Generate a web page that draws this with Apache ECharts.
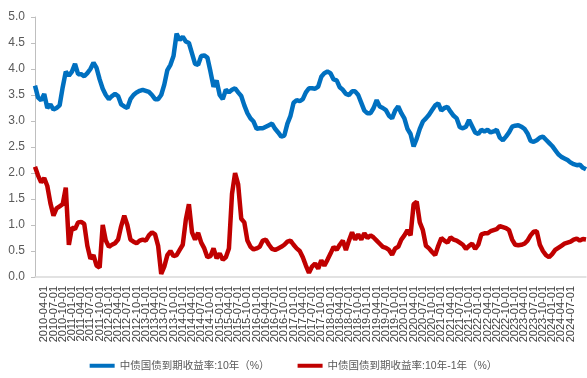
<!DOCTYPE html>
<html>
<head>
<meta charset="utf-8">
<script src="https://cdn.jsdelivr.net/npm/echarts@6/dist/echarts.min.js"></script>
<style>
  html, body { margin: 0; padding: 0; background: #ffffff; }
  #chart { width: 587px; height: 378px; }
</style>
</head>
<body>
<div id="chart"></div>
<script>
// Monthly observations, 2010-01 through 2024-12
const startYear = 2010;
const monthCount = 180;

// 中债国债到期收益率:10年 (%)
const yield10y = [
  3.68, 3.45, 3.40, 3.52, 3.25, 3.32, 3.22, 3.25, 3.30, 3.65, 3.95, 3.87,
  3.95, 4.10, 3.90, 3.90, 3.86, 3.92, 4.00, 4.12, 4.02, 3.80, 3.62, 3.50,
  3.42, 3.48, 3.52, 3.48, 3.32, 3.28, 3.25, 3.42, 3.50, 3.55, 3.58, 3.60,
  3.58, 3.56, 3.50, 3.42, 3.42, 3.50, 3.70, 3.98, 4.08, 4.25, 4.68, 4.56,
  4.62, 4.53, 4.50, 4.30, 4.10, 4.08, 4.25, 4.26, 4.22, 3.95, 3.66, 3.78,
  3.50, 3.42, 3.60, 3.55, 3.60, 3.63, 3.55, 3.48, 3.30, 3.15, 3.05, 2.99,
  2.85, 2.86, 2.86, 2.89, 2.92, 2.95, 2.85, 2.78, 2.70, 2.72, 2.95, 3.10,
  3.35, 3.40, 3.38, 3.42, 3.55, 3.63, 3.63, 3.62, 3.66, 3.85, 3.92, 3.95,
  3.92, 3.80, 3.78, 3.65, 3.60, 3.52, 3.50, 3.57, 3.57, 3.50, 3.35, 3.20,
  3.15, 3.15, 3.25, 3.40, 3.28, 3.25, 3.21, 3.10, 3.05, 3.20, 3.28, 3.15,
  3.05, 2.85, 2.75, 2.51, 2.66, 2.85, 2.99, 3.05, 3.12, 3.21, 3.30, 3.34,
  3.20, 3.25, 3.27, 3.18, 3.10, 3.05, 2.88, 2.86, 2.89, 3.02, 2.90, 2.78,
  2.75, 2.83, 2.80, 2.83, 2.78, 2.80, 2.83, 2.68, 2.63, 2.70, 2.78, 2.89,
  2.91, 2.92, 2.89, 2.85, 2.76, 2.62, 2.60, 2.63, 2.68, 2.70, 2.64, 2.58,
  2.52, 2.44, 2.36, 2.31, 2.28, 2.25, 2.20, 2.17, 2.15, 2.16, 2.10, 2.07
];

// 中债国债到期收益率:10年-1年 (%)
const spread10y1y = [
  2.12, 1.95, 1.82, 1.90, 1.75, 1.42, 1.18, 1.32, 1.36, 1.40, 1.72, 0.62,
  0.95, 0.92, 1.05, 1.06, 1.02, 0.60, 0.35, 0.42, 0.22, 0.18, 1.00, 0.70,
  0.58, 0.62, 0.65, 0.72, 0.98, 1.18, 1.00, 0.72, 0.68, 0.65, 0.70, 0.72,
  0.70, 0.80, 0.86, 0.82, 0.60, 0.06, 0.20, 0.42, 0.50, 0.40, 0.42, 0.52,
  0.62, 1.10, 1.40, 0.86, 0.72, 0.85, 0.66, 0.55, 0.38, 0.40, 0.55, 0.36,
  0.45, 0.33, 0.38, 0.55, 1.60, 2.00, 1.78, 1.12, 1.05, 0.70, 0.58, 0.53,
  0.55, 0.58, 0.70, 0.72, 0.62, 0.54, 0.52, 0.55, 0.58, 0.62, 0.68, 0.70,
  0.62, 0.55, 0.50, 0.38, 0.22, 0.08, 0.20, 0.26, 0.16, 0.32, 0.22, 0.33,
  0.45, 0.58, 0.52, 0.62, 0.70, 0.52, 0.70, 0.86, 0.72, 0.82, 0.72, 0.84,
  0.75, 0.80, 0.76, 0.70, 0.64, 0.58, 0.56, 0.52, 0.43, 0.55, 0.58, 0.72,
  0.80, 0.90, 0.80, 1.40, 1.45, 1.05, 0.90, 0.60, 0.55, 0.48, 0.42, 0.60,
  0.75, 0.70, 0.66, 0.76, 0.72, 0.70, 0.66, 0.62, 0.54, 0.60, 0.64, 0.54,
  0.62, 0.82, 0.84, 0.84, 0.88, 0.90, 0.92, 0.98, 0.96, 0.94, 0.90, 0.72,
  0.62, 0.61, 0.62, 0.64, 0.70, 0.80, 0.87, 0.88, 0.62, 0.50, 0.42, 0.38,
  0.44, 0.52, 0.56, 0.60, 0.64, 0.66, 0.68, 0.72, 0.74, 0.70, 0.73, 0.72
];

const seriesNames = ['中债国债到期收益率:10年（%）', '中债国债到期收益率:10年-1年（%）'];
const seriesColors = ['#0070C0', '#C00000'];

// Category labels: first day of each month
const dates = [];
for (let i = 0; i < monthCount; i++) {
  const y = startYear + Math.floor(i / 12);
  const m = (i % 12) + 1;
  dates.push(y + '-' + String(m).padStart(2, '0') + '-01');
}

const fontFamily = '"Liberation Sans", "Noto Sans CJK SC", sans-serif';

const chart = echarts.init(document.getElementById('chart'), null, { renderer: 'canvas' });
chart.setOption({
  animation: false,
  backgroundColor: '#ffffff',
  grid: { left: 35, right: 1, top: 17, bottom: 101, containLabel: false },
  legend: {
    bottom: 2,
    left: 'center',
    itemWidth: 25,
    itemHeight: 4,
    itemGap: 28,
    icon: 'rect',
    textStyle: { color: '#595959', fontSize: 10.5, fontFamily: fontFamily },
    data: seriesNames
  },
  xAxis: {
    type: 'category',
    data: dates,
    boundaryGap: false,
    axisLine: { show: true, lineStyle: { color: '#d9d9d9', width: 1.5 } },
    axisTick: { show: false },
    axisLabel: {
      // one label per quarter
      interval: (index) => index % 3 === 0,
      rotate: 90,
      margin: 9,
      hideOverlap: false,
      color: '#404040',
      fontSize: 11,
      fontFamily: fontFamily
    },
    splitLine: { show: false }
  },
  yAxis: {
    type: 'value',
    min: 0,
    max: 5,
    interval: 0.5,
    axisLine: { show: true, lineStyle: { color: '#bfbfbf' } },
    axisTick: { show: true, inside: false, length: 4, lineStyle: { color: '#bfbfbf' } },
    axisLabel: {
      color: '#595959',
      fontSize: 12,
      margin: 10,
      fontFamily: fontFamily,
      formatter: v => v.toFixed(1)
    },
    splitLine: { show: false }
  },
  series: [
    {
      name: seriesNames[0],
      type: 'line',
      data: yield10y,
      showSymbol: false,
      symbol: 'none',
      lineStyle: { color: seriesColors[0], width: 4.5 },
      itemStyle: { color: seriesColors[0] }
    },
    {
      name: seriesNames[1],
      type: 'line',
      data: spread10y1y,
      showSymbol: false,
      symbol: 'none',
      lineStyle: { color: seriesColors[1], width: 4.5 },
      itemStyle: { color: seriesColors[1] }
    }
  ]
});
</script>
</body>
</html>
